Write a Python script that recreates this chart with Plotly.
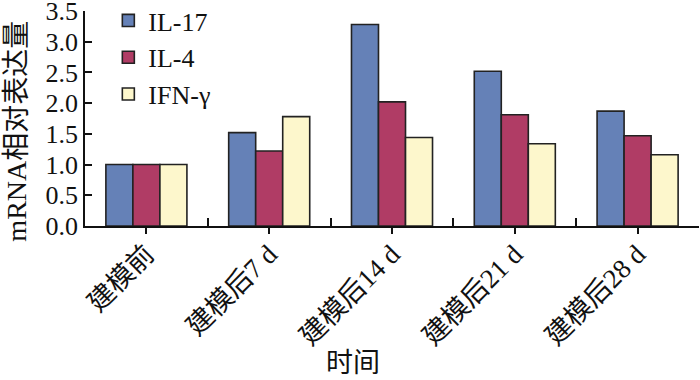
import plotly.graph_objects as go

categories = ["建模前", "建模后7 d", "建模后14 d", "建模后21 d", "建模后28 d"]
il17 = [1.00, 1.52, 3.28, 2.52, 1.87]
il4 = [1.00, 1.22, 2.02, 1.81, 1.47]
ifng = [1.00, 1.78, 1.44, 1.34, 1.16]
series_names = ["IL-17", "IL-4", "IFN-γ"]
colors = ["#6581B7", "#B03C65", "#FDF7CC"]
y_ticks = [0.0, 0.5, 1.0, 1.5, 2.0, 2.5, 3.0, 3.5]
x_title = "时间"
y_title = "mRNA相对表达量"

FONT = "Liberation Serif, Times New Roman, Noto Sans CJK SC, serif"
xpos = list(range(len(categories)))

fig = go.Figure()
for name, vals, col in zip(series_names, [il17, il4, ifng], colors):
    fig.add_trace(go.Bar(
        x=xpos, y=vals, name=name,
        marker=dict(color=col, line=dict(color="#222222", width=1.6)),
    ))

fig.update_layout(
    width=700, height=380,
    margin=dict(l=85, r=1, t=11, b=154, autoexpand=False),
    paper_bgcolor="white", plot_bgcolor="white",
    barmode="group", bargap=0.34, bargroupgap=0,
    font=dict(family=FONT, size=25, color="#111111"),
    showlegend=True,
    legend=dict(x=0.038, y=1.065, xanchor="left", yanchor="top",
                font=dict(size=26, family=FONT), tracegroupgap=0,
                bgcolor="rgba(0,0,0,0)"),
    xaxis=dict(
        range=[-0.5, 4.5], tickmode="array", tickvals=xpos, ticktext=categories,
        tickangle=-45, ticks="outside", ticklen=6, tickwidth=1.5, tickcolor="#111",
        showline=True, linecolor="#111", linewidth=1.5, showgrid=False, zeroline=False,
        tickfont=dict(size=27, family=FONT), automargin=False,
        ticklabelstandoff=-6,
    ),
    xaxis2=dict(
        overlaying="x", anchor="y", side="bottom", range=[-0.5, 4.5],
        tickmode="array", tickvals=[0.5, 1.5, 2.5, 3.5, 4.5],
        ticks="inside", ticklen=8, tickwidth=1.5, tickcolor="#111",
        showticklabels=False, showline=False, showgrid=False, zeroline=False,
        automargin=False,
    ),
    yaxis=dict(
        range=[0, 3.5], tickmode="array", tickvals=y_ticks,
        ticktext=[f"{v:.1f}" for v in y_ticks],
        ticks="inside", ticklen=7, tickwidth=1.5, tickcolor="#111",
        showline=True, linecolor="#111", linewidth=1.5, showgrid=False, zeroline=False,
        tickfont=dict(size=26, family=FONT), automargin=False,
        ticklabeloverflow="allow",
    ),
    annotations=[
        dict(text=y_title, xref="paper", yref="paper", x=-0.112, y=0.44,
             xanchor="center", yanchor="middle", textangle=-90, showarrow=False,
             font=dict(size=28, family=FONT)),
        dict(text=x_title, xref="paper", yref="paper", x=0.436, y=-0.635,
             xanchor="center", yanchor="middle", showarrow=False,
             font=dict(size=27, family=FONT)),
    ],
)
fig.add_trace(go.Scatter(x=[0], y=[0], xaxis="x2", mode="markers",
                         marker=dict(opacity=0), showlegend=False, hoverinfo="skip"))

fig.write_html(
    "out.html",
    config={"displayModeBar": False},
    post_script="document.body.style.margin='0';document.body.style.overflow='hidden';",
)
